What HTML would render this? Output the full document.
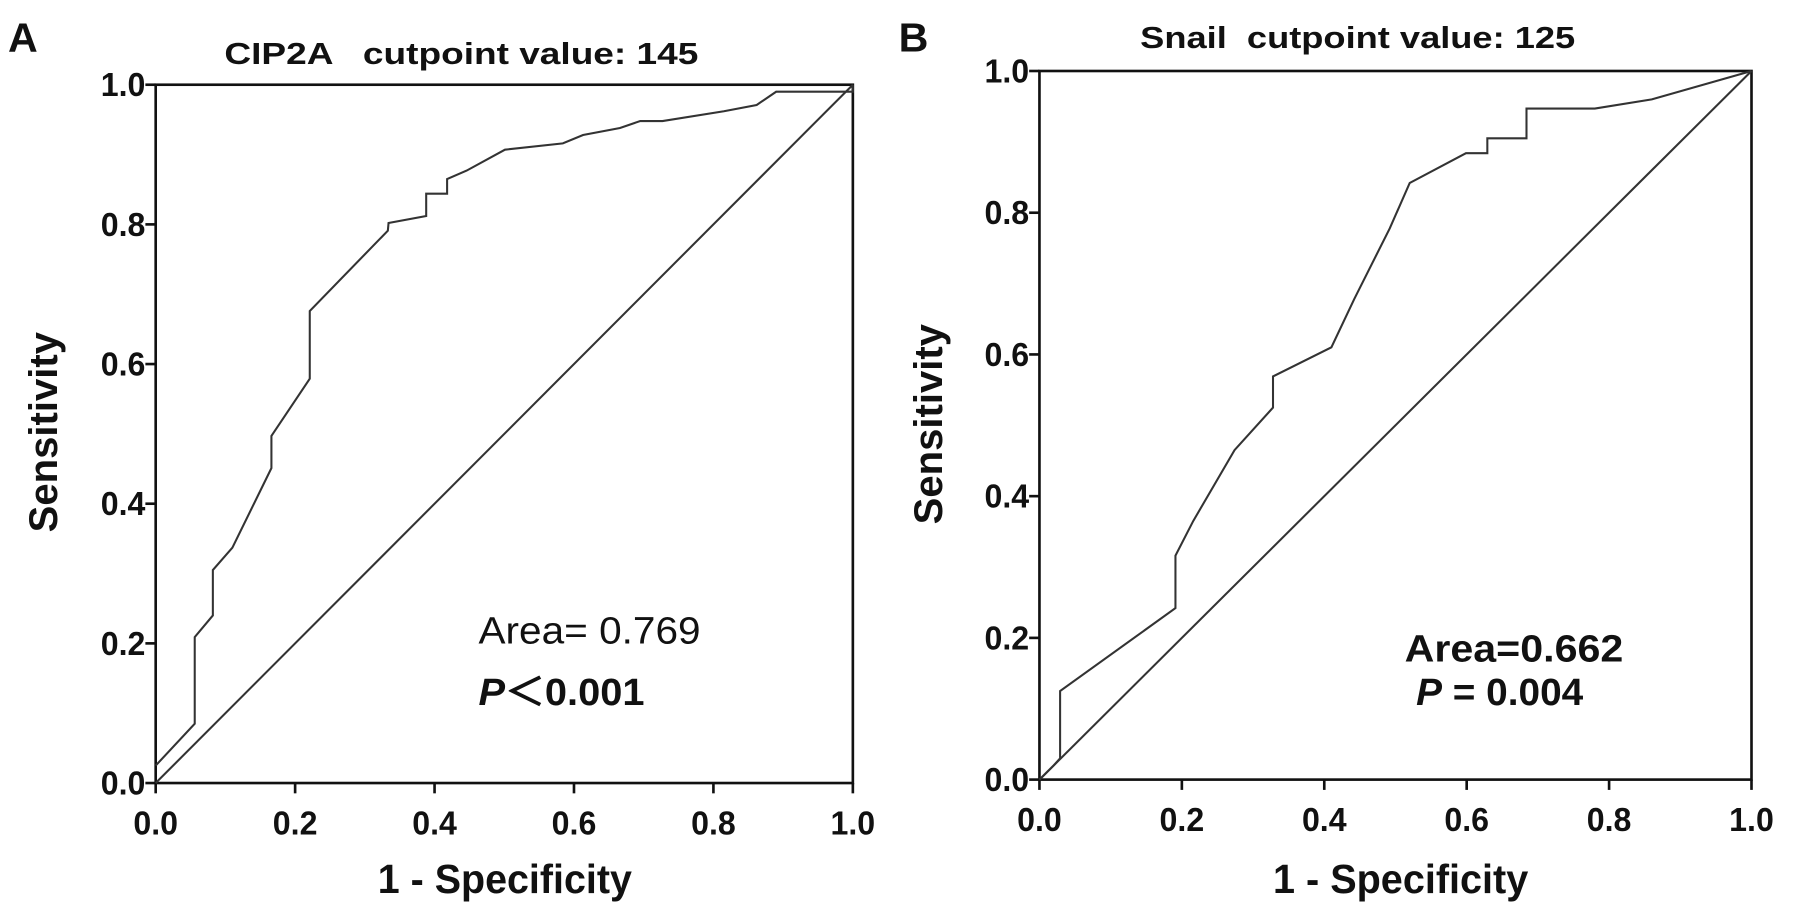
<!DOCTYPE html>
<html><head><meta charset="utf-8"><style>
body{margin:0;background:#fff}
svg{display:block}
text{font-family:"Liberation Sans",Arial,sans-serif;fill:#111}
</style></head><body>
<svg id="chart" width="1795" height="921" viewBox="0 0 1568 804.5" style="position:absolute;left:0;top:0">
<g id="A"></g><g id="B"></g>
</svg>
<script>
const ticks=[0,0.2,0.4,0.6,0.8,1.0];
const tickLabels=["0.0","0.2","0.4","0.6","0.8","1.0"];
const cipFpr=[0,0.056,0.056,0.082,0.082,0.110,0.166,0.166,0.221,0.221,0.333,0.334,0.388,0.388,0.418,0.418,0.446,0.501,0.584,0.613,0.666,0.695,0.727,0.815,0.862,0.89,1,1];
const cipTpr=[0.025,0.085,0.209,0.240,0.305,0.337,0.451,0.497,0.579,0.676,0.791,0.802,0.812,0.844,0.844,0.865,0.877,0.907,0.916,0.928,0.938,0.948,0.948,0.962,0.971,0.99,0.99,1];
const snFpr=[0,0.02,0.029,0.029,0.191,0.191,0.216,0.274,0.328,0.328,0.41,0.442,0.492,0.52,0.599,0.629,0.629,0.684,0.684,0.78,0.86,1];
const snTpr=[0,0.02,0.03,0.125,0.242,0.316,0.365,0.465,0.525,0.569,0.61,0.678,0.778,0.842,0.884,0.884,0.905,0.905,0.947,0.947,0.96,1];
const NS="http://www.w3.org/2000/svg";
function mk(p,tag,at,txt){const e=document.createElementNS(NS,tag);for(const k in at)e.setAttribute(k,at[k]);if(txt!=null)e.textContent=txt;p.appendChild(e);return e;}
function panel(g,x0,x1,yb,yt,fpr,tpr,prefix){
  const sx=v=>x0+v*(x1-x0), sy=v=>yb-v*(yb-yt);
  let e=mk(g,'rect',{x:x0,y:yt,width:x1-x0,height:yb-yt,fill:'none',stroke:'#111','stroke-width':2.3});
  
  
  ticks.forEach((t,i)=>{
    e=mk(g,'line',{x1:x0-9,x2:x0,y1:sy(t),y2:sy(t),stroke:'#111','stroke-width':2.3});
    
    
    e=mk(g,'text',{x:x0-9,y:sy(t)+10,'text-anchor':'end','font-size':29,'font-weight':'bold',textLength:39,lengthAdjust:'spacingAndGlyphs'},tickLabels[i]);
    
    
    e=mk(g,'line',{x1:sx(t),x2:sx(t),y1:yb,y2:yb+9,stroke:'#111','stroke-width':2.3});
    
    
    e=mk(g,'text',{x:sx(t)-19.5,y:yb+45,'font-size':29,'font-weight':'bold',textLength:39,lengthAdjust:'spacingAndGlyphs'},tickLabels[i]);
    
    
  });
  e=mk(g,'line',{x1:sx(0),y1:sy(0),x2:sx(1),y2:sy(1),stroke:'#333','stroke-width':1.8});
  
  
  e=mk(g,'polyline',{points:fpr.map((v,i)=>sx(v)+','+sy(tpr[i])).join(' '),fill:'none',stroke:'#333','stroke-width':1.8});
  
  
}
const A=document.getElementById('A'),B=document.getElementById('B');
panel(A,136,745,684,74,cipFpr,cipTpr,'cip2a');
panel(B,908,1530,681,62,snFpr,snTpr,'snail');
</script>
<svg style="position:absolute;left:0;top:0" width="1795" height="921" viewBox="0 0 1568 804.5">
<text x="7" y="45" font-size="36" font-weight="bold">A</text>
<text x="196" y="56" font-size="27" font-weight="bold" textLength="414" lengthAdjust="spacingAndGlyphs" xml:space="preserve">CIP2A   cutpoint value: 145</text>
<text x="785" y="45" font-size="36" font-weight="bold">B</text>
<text x="996" y="42" font-size="27" font-weight="bold" textLength="380" lengthAdjust="spacingAndGlyphs" xml:space="preserve">Snail  cutpoint value: 125</text>
<text x="330" y="780" font-size="36" font-weight="bold" textLength="222" lengthAdjust="spacingAndGlyphs">1 - Specificity</text>
<text x="1112" y="780" font-size="36" font-weight="bold" textLength="223" lengthAdjust="spacingAndGlyphs">1 - Specificity</text>
<text transform="translate(50,465) rotate(-90)" font-size="35" font-weight="bold" textLength="175" lengthAdjust="spacingAndGlyphs">Sensitivity</text>
<text transform="translate(823,458) rotate(-90)" font-size="35" font-weight="bold" textLength="175" lengthAdjust="spacingAndGlyphs">Sensitivity</text>
<text x="418" y="562" font-size="33" textLength="194" lengthAdjust="spacingAndGlyphs">Area= 0.769</text>
<text x="418" y="616" font-size="33" font-weight="bold" textLength="145" lengthAdjust="spacingAndGlyphs"><tspan font-style="italic">P</tspan>＜0.001</text>
<text x="1227" y="578" font-size="33" font-weight="bold" textLength="191" lengthAdjust="spacingAndGlyphs">Area=0.662</text>
<text x="1237" y="616" font-size="33" font-weight="bold" textLength="146" lengthAdjust="spacingAndGlyphs"><tspan font-style="italic">P</tspan> = 0.004</text>
</svg>
</body></html>
